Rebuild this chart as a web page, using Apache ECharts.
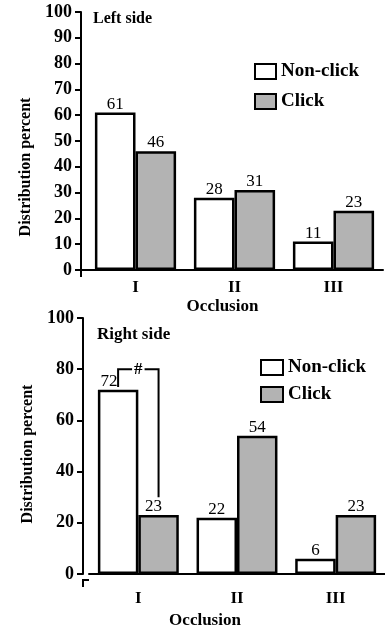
<!DOCTYPE html>
<html>
<head>
<meta charset="utf-8">
<script src="https://cdn.jsdelivr.net/npm/echarts@6/dist/echarts.min.js"></script>
<style>
html,body{margin:0;padding:0;background:#fff;}
#chart{width:385px;height:630px;}
</style>
</head>
<body>
<div id="chart"></div>
<script>
// ---- data ----
const categories = ['I', 'II', 'III'];
const seriesNames = ['Non-click', 'Click'];
const leftNonClick = [61, 28, 11];
const leftClick = [46, 31, 23];
const rightNonClick = [72, 22, 6];
const rightClick = [23, 54, 23];
const leftAxis = { min: 0, max: 100, interval: 10 };
const rightAxis = { min: 0, max: 100, interval: 20 };
const panelTitles = ['Left side', 'Right side'];
const axisNameX = 'Occlusion';
const axisNameY = 'Distribution percent';
// significance bracket (right side): category index, start value, top value, end value, mark
const bracketCategory = 0;
const bracketValues = [73, 80, 30];
const bracketMark = '#';

// ---- layout / style ----
const FONT = '"Liberation Serif", "Times New Roman", serif';
const GAP = '18%';
const grids = [
  { left: 86, top: 12, width: 297, height: 258, yOff: 5 },
  { left: 89, top: 318, width: 301, height: 262, yOff: 6 }
];
const grey = '#b3b3b3';
const BW = 2.5;

const chart = echarts.init(document.getElementById('chart'), null, { renderer: 'canvas' });

function barSeries(name, data, idx, color, labelOffsets) {
  return {
    type: 'bar', name: name, xAxisIndex: idx, yAxisIndex: idx,
    barGap: 0, barCategoryGap: GAP,
    data: data.map((v, i) => labelOffsets && labelOffsets[i] ? { value: v, label: { offset: labelOffsets[i] } } : v),
    itemStyle: { color: color, borderColor: '#000', borderWidth: BW },
    label: { show: true, position: 'top', distance: 0, color: '#000', fontFamily: FONT, fontSize: 17 },
    emphasis: { disabled: true },
    animation: false
  };
}

const xAxes = grids.map((g, i) => ({
  type: 'category', gridIndex: i, data: categories,
  axisLine: { lineStyle: { color: '#000', width: 2 } },
  axisTick: { alignWithLabel: true, length: 5, lineStyle: { color: '#000', width: 2 } },
  axisLabel: { color: '#000', fontFamily: FONT, fontWeight: 'bold', fontSize: 17, margin: i === 0 ? 9 : 16 },
  name: axisNameX, nameLocation: 'middle', nameGap: i === 0 ? 28 : 38,
  nameTextStyle: { color: '#000', fontFamily: FONT, fontWeight: 'bold', fontSize: 17, padding: i === 0 ? [0, 24, 0, 0] : [0, 64, 0, 0] }
}));

const yAxes = grids.map((g, i) => {
  const ax = i === 0 ? leftAxis : rightAxis;
  return {
    type: 'value', gridIndex: i, min: ax.min, max: ax.max, interval: ax.interval,
    offset: g.yOff,
    axisLine: { show: true, lineStyle: { color: '#000', width: 2 } },
    axisTick: { show: true, length: 6, lineStyle: { color: '#000', width: 2 } },
    axisLabel: { color: '#000', fontFamily: FONT, fontWeight: 'bold', fontSize: 18, margin: 9 },
    splitLine: { show: false },
    name: axisNameY, nameLocation: 'middle', nameGap: i === 0 ? 46 : 47,
    nameTextStyle: { color: '#000', fontFamily: FONT, fontWeight: 'bold', fontSize: 16, padding: i === 0 ? [0, 52, 0, 0] : [0, 16, 0, 0] }
  };
});

const bracketSeries = {
  type: 'custom', xAxisIndex: 1, yAxisIndex: 1, silent: true, animation: false,
  data: [[bracketCategory].concat(bracketValues)],
  encode: { x: 0, y: [1, 2, 3] },
  renderItem: function (params, api) {
    const c = api.value(0);
    const p0 = api.coord([c, api.value(1)]);
    const pt = api.coord([c, api.value(2)]);
    const p2 = api.coord([c, api.value(3)]);
    const band = api.size([1, 0])[0];
    const bw = band * (1 - 0.18) / 2;
    const xL = p0[0] - bw / 2, xR = p0[0] + bw / 2;
    return {
      type: 'group', children: [
        { type: 'polyline', shape: { points: [[xL, p0[1]], [xL, pt[1]], [xR, pt[1]], [xR, p2[1]]] },
          style: { stroke: '#000', lineWidth: 2, fill: null } },
        { type: 'text', x: (xL + xR) / 2, y: pt[1],
          style: { text: bracketMark, align: 'center', verticalAlign: 'middle', fill: '#000',
                   fontFamily: FONT, fontWeight: 'bold', fontSize: 17, backgroundColor: '#fff', padding: [0, 2] } }
      ]
    };
  }
};

// small extensions joining offset y-axis to x-axis
const graphics = [];
grids.forEach(g => {
  const ax = g.left - g.yOff;
  const ay = g.top + g.height;
  graphics.push({ type: 'line', shape: { x1: ax - 1, y1: ay, x2: g.left, y2: ay }, style: { stroke: '#000', lineWidth: 2 }, silent: true });
  graphics.push({ type: 'line', shape: { x1: ax, y1: ay, x2: ax, y2: ay + 7 }, style: { stroke: '#000', lineWidth: 2 }, silent: true });
});

const legendText = { fontFamily: FONT, fontWeight: 'bold', fontSize: 19, color: '#000' };

const option = {
  backgroundColor: '#fff',
  animation: false,
  textStyle: { fontFamily: FONT },
  title: [
    { text: panelTitles[0], left: 88, top: 6, textStyle: { fontFamily: FONT, fontWeight: 'bold', fontSize: 16, color: '#000' } },
    { text: panelTitles[1], left: 92, top: 321, textStyle: { fontFamily: FONT, fontWeight: 'bold', fontSize: 17, color: '#000' } }
  ],
  legend: [
    { data: seriesNames, orient: 'vertical', left: 254, top: 62, padding: 0, icon: 'rect', itemWidth: 21, itemHeight: 15, itemGap: 11,
      textStyle: legendText, selectedMode: false },
    { data: seriesNames, orient: 'vertical', left: 260, top: 358, padding: 0, icon: 'rect', itemWidth: 22, itemHeight: 15, itemGap: 8,
      textStyle: legendText, selectedMode: false }
  ],
  grid: grids.map(g => ({ left: g.left, top: g.top, width: g.width, height: g.height, containLabel: false })),
  xAxis: xAxes,
  yAxis: yAxes,
  series: [
    barSeries(seriesNames[0], leftNonClick, 0, '#fff'),
    barSeries(seriesNames[1], leftClick, 0, grey),
    barSeries(seriesNames[0], rightNonClick, 1, '#fff', [[-9, 0], null, null]),
    barSeries(seriesNames[1], rightClick, 1, grey, [[-5, 0], null, null]),
    bracketSeries
  ],
  graphic: graphics
};
chart.setOption(option);
</script>
</body>
</html>
